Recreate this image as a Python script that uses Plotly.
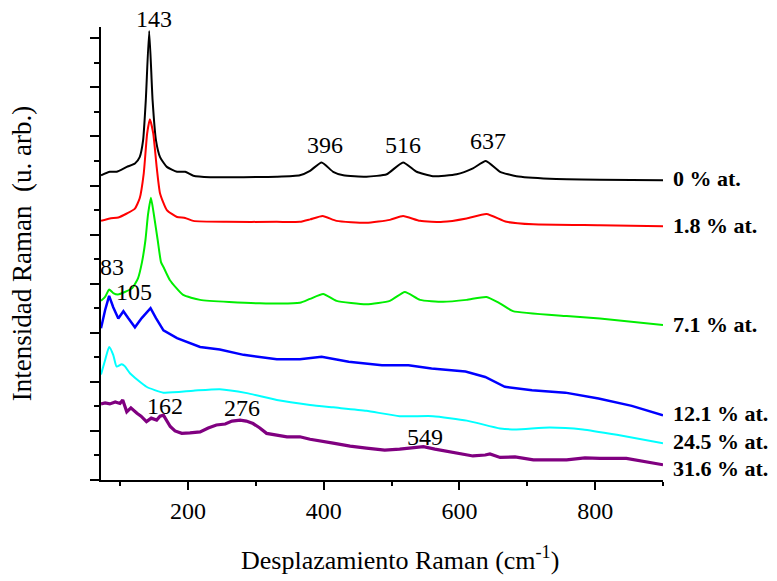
import plotly.graph_objects as go

# ---- data ----
x_0 = [72, 85, 95, 110, 122, 129, 134, 138, 143, 148, 153, 159, 169, 184, 196, 208, 233, 282, 331,
       365, 380, 397, 414, 429, 463, 493, 517, 537, 561, 596, 620, 639, 660, 684, 733, 807, 900]
y_0 = [6.21, 6.28, 6.28, 6.38, 6.45, 6.58, 6.92, 7.74, 9.15, 7.74, 6.92, 6.58, 6.38, 6.28, 6.28, 6.20, 6.17, 6.17, 6.18,
       6.21, 6.30, 6.47, 6.28, 6.21, 6.18, 6.23, 6.47, 6.28, 6.19, 6.23, 6.35, 6.50, 6.28, 6.19, 6.14, 6.12, 6.11]

x_18 = [72, 85, 97.5, 110, 122, 129, 135, 140, 144, 149, 154, 159, 169, 184, 196, 208, 257, 331,
        365, 380, 398.5, 419, 463, 497.6, 517, 542, 576, 610.6, 640, 669.5, 708.7, 807, 900]
y_18 = [5.28, 5.33, 5.35, 5.43, 5.53, 5.74, 6.25, 7.06, 7.35, 7.06, 6.38, 5.84, 5.50, 5.36, 5.34, 5.28, 5.26, 5.26,
        5.26, 5.31, 5.38, 5.28, 5.24, 5.30, 5.38, 5.28, 5.26, 5.33, 5.42, 5.26, 5.21, 5.19, 5.17]

x_71 = [72, 78, 84, 90, 97, 107, 118, 126.5, 132.4, 137.5, 141.2, 145.6, 150, 155.5, 160.4, 164, 173.6, 193, 218, 306,
        365, 380, 399.4, 419, 463, 497.6, 519.7, 542, 576, 610.6, 640, 659.6, 679, 758, 807, 900]
y_71 = [3.65, 3.73, 3.88, 3.81, 3.78, 3.83, 3.91, 4.11, 4.44, 4.89, 5.40, 5.75, 5.40, 4.89, 4.44, 4.34, 4.07, 3.77, 3.67, 3.60,
        3.61, 3.69, 3.79, 3.65, 3.58, 3.65, 3.83, 3.67, 3.63, 3.67, 3.73, 3.60, 3.44, 3.34, 3.29, 3.16]

x_121 = [72, 78, 84, 90, 97.5, 105, 112, 122, 132, 145, 153, 164, 184, 218, 247, 282, 331, 365, 397, 437,
         486, 525, 559, 609, 638, 667, 707, 756, 805, 854, 900]
y_121 = [3.09, 3.46, 3.75, 3.52, 3.29, 3.44, 3.30, 3.11, 3.30, 3.50, 3.30, 3.05, 2.89, 2.71, 2.66, 2.55, 2.46, 2.46, 2.51, 2.41,
         2.34, 2.34, 2.27, 2.21, 2.10, 1.90, 1.83, 1.78, 1.66, 1.51, 1.32]

x_245 = [72, 78, 84, 90, 95, 102.5, 107, 115, 139, 164, 208, 247, 287, 331, 380, 414, 463, 512, 561, 611,
         660, 684, 733, 782, 832, 900]
y_245 = [2.15, 2.44, 2.71, 2.55, 2.31, 2.36, 2.32, 2.17, 1.90, 1.78, 1.82, 1.85, 1.77, 1.63, 1.53, 1.48, 1.41, 1.30, 1.30, 1.21,
         1.05, 1.03, 1.07, 1.03, 0.92, 0.75]

x_316 = [72, 78, 85, 93, 100, 104, 110, 116, 125, 131, 139, 146, 154, 159, 164, 168, 174, 181, 191, 203,
         218, 230, 242, 255, 265, 277, 286, 296, 306, 316, 330, 346, 365, 380, 414, 439, 463, 490, 512, 530,
         547, 564, 586, 620, 638, 645, 660, 682, 709, 758, 785, 807, 846, 866, 900]
y_316 = [1.55, 1.57, 1.55, 1.59, 1.56, 1.63, 1.39, 1.47, 1.36, 1.30, 1.19, 1.26, 1.22, 1.30, 1.32, 1.22, 1.09, 1.00, 0.95, 0.96,
         0.98, 1.06, 1.12, 1.14, 1.20, 1.22, 1.20, 1.15, 1.06, 0.95, 0.92, 0.88, 0.88, 0.83, 0.75, 0.69, 0.65, 0.61, 0.63, 0.65,
         0.68, 0.63, 0.58, 0.49, 0.51, 0.53, 0.46, 0.47, 0.41, 0.41, 0.45, 0.44, 0.44, 0.39, 0.31]

series_labels = ["0 % at.", "1.8 % at.", "7.1 % at.", "12.1 % at.", "24.5 % at.", "31.6 % at."]
series_colors = ["#000000", "#FF0000", "#00EE00", "#0000FF", "#00FFFF", "#800080"]
label_y = [6.15, 5.19, 3.16, 1.36, 0.78, 0.24]

peak_text = ["143", "396", "516", "637", "83", "105", "162", "276", "549"]
peak_x = [150, 401.5, 516.5, 642.4, 88.6, 120.6, 166.3, 279.2, 548.7]
peak_y = [9.39, 6.82, 6.82, 6.91, 4.33, 3.84, 1.51, 1.46, 0.87]

X_RANGE = [72, 900]
Y_RANGE = [0, 9.23]

FONT = "Liberation Serif, Times New Roman, serif"

fig = go.Figure()
xs = [x_0, x_18, x_71, x_121, x_245, x_316]
ys = [y_0, y_18, y_71, y_121, y_245, y_316]
widths = [2, 2, 2, 2.5, 2, 3.2]
shapes = ["spline", "spline", "spline", "linear", "spline", "linear"]
for xv, yv, c, w, s, name in zip(xs, ys, series_colors, widths, shapes, series_labels):
    line = dict(color=c, width=w, shape=s)
    if s == "spline":
        line["smoothing"] = 0.5
    fig.add_trace(go.Scatter(x=xv, y=yv, mode="lines", line=line, name=name,
                             showlegend=False, hoverinfo="skip"))

ann = []
for t, yv in zip(series_labels, label_y):
    ann.append(dict(x=1.0137, y=yv, xref="paper", yref="y", text="<b>" + t + "</b>", showarrow=False,
                    xanchor="left", yanchor="middle", font=dict(family=FONT, size=22, color="black")))
for t, xv, yv in zip(peak_text, peak_x, peak_y):
    ann.append(dict(x=xv, y=(yv - Y_RANGE[0]) / (Y_RANGE[1] - Y_RANGE[0]), xref="x", yref="paper", text=t,
                    showarrow=False, xanchor="center", yanchor="middle",
                    font=dict(family=FONT, size=24, color="black")))
ann.append(dict(x=0.532, y=-0.174, xref="paper", yref="paper", text="Desplazamiento Raman (cm<sup>-1</sup>)",
                showarrow=False, xanchor="center", yanchor="middle",
                font=dict(family=FONT, size=26, color="black")))
ann.append(dict(x=-0.141, y=0.50, xref="paper", yref="paper", text="Intensidad Raman&nbsp; (u. arb.)",
                showarrow=False, textangle=-90, xanchor="center", yanchor="middle",
                font=dict(family=FONT, size=27, color="black")))

fig.update_layout(
    width=777, height=581,
    margin=dict(l=101, r=114, t=27, b=101),
    paper_bgcolor="white", plot_bgcolor="white",
    showlegend=False,
    annotations=ann,
    xaxis=dict(range=X_RANGE, tick0=0, dtick=200, ticks="outside", ticklen=8, tickwidth=2,
               tickcolor="black", showline=True, linewidth=2, linecolor="black",
               showgrid=False, zeroline=False,
               tickfont=dict(family=FONT, size=24, color="black"),
               minor=dict(tick0=0, dtick=100, ticks="outside", ticklen=4, tickwidth=2, tickcolor="black",
                          showgrid=False)),
    yaxis=dict(range=Y_RANGE, tick0=0, dtick=1, ticks="outside", ticklen=9, tickwidth=2,
               tickcolor="black", showline=True, linewidth=2, linecolor="black",
               showgrid=False, zeroline=False, showticklabels=False,
               minor=dict(tick0=0, dtick=0.5, ticks="outside", ticklen=5, tickwidth=2, tickcolor="black",
                          showgrid=False)),
)

# remove the default 8px page margin so the figure sits at the window's top-left corner
fig.write_html("out.html",
               config={"displayModeBar": False},
               post_script="document.body.style.margin='0px';document.body.style.overflow='hidden';")
